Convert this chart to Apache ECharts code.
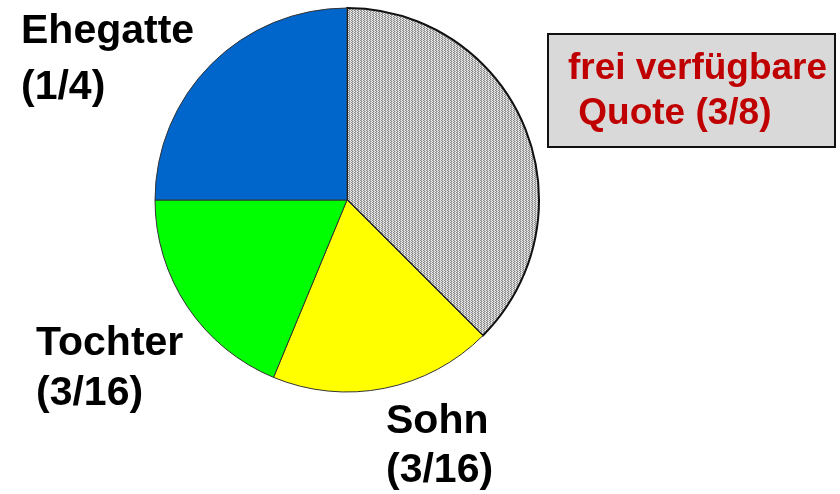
<!DOCTYPE html>
<html><head><meta charset="utf-8">
<script src="https://cdn.jsdelivr.net/npm/echarts@6/dist/echarts.min.js"></script>
<style>html,body{margin:0;padding:0;background:#fff}#c{width:840px;height:494px}</style>
</head><body><div id="c"></div>
<script>
// Data
const names = ['frei verfügbare\n Quote', 'Sohn', 'Tochter', 'Ehegatte'];
const fractions = ['3/8', '3/16', '3/16', '1/4'];
const values = [0.375, 0.1875, 0.1875, 0.25];

// hatch pattern (fine downward diagonal, pixel crisp)
const tile = document.createElement('canvas');
tile.width = 6; tile.height = 4;
const tc = tile.getContext('2d');
tc.fillStyle = '#eeeeee'; tc.fillRect(0, 0, 6, 4);
for (let r = 0; r < 4; r++) {
  const s = Math.floor(r * 1.5);
  for (let x = 0; x < 6; x++) {
    const m = ((x - s) % 3 + 3) % 3;
    if (m === 0) { tc.fillStyle = '#868686'; tc.fillRect(x, r, 1, 1); }
    else if (m === 1) { tc.fillStyle = '#bcbcbc'; tc.fillRect(x, r, 1, 1); }
  }
}

const colors = [{ image: tile, repeat: 'repeat' }, '#ffff00', '#00ff00', '#0066cc'];
const borders = ['#111', '#333', '#333', '#333'];
const borderW = [2, 1, 1, 1];

// label positions (top-left of text block)
const labelPos = [[568, 46], [386, 397], [36, 319], [21, 4]];
const lineH = [45, 49, 50, 56];
const fontSize = [37, 41, 41, 41];
const FONT = 'Liberation Sans, Arial, sans-serif';

const graphics = [{
  type: 'rect', shape: { x: 548, y: 34, width: 287, height: 113 },
  style: { fill: '#d9d9d9', stroke: '#111', lineWidth: 2 }, z: 10
}];
names.forEach((n, i) => {
  const isBox = i === 0;
  graphics.push({
    type: 'text', x: labelPos[i][0], y: labelPos[i][1], z: 11,
    style: {
      text: isBox ? n + ' (' + fractions[i] + ')' : n + '\n(' + fractions[i] + ')',
      fill: isBox ? '#c00000' : '#000',
      font: 'bold ' + fontSize[i] + 'px ' + FONT,
      lineHeight: lineH[i],
      align: 'left', verticalAlign: 'top'
    }
  });
});

const chart = echarts.init(document.getElementById('c'), null, { renderer: 'canvas' });
chart.setOption({
  animation: false,
  graphic: graphics,
  series: [{
    type: 'pie',
    center: [347, 200],
    radius: 192,
    startAngle: 90,
    clockwise: true,
    silent: true,
    label: { show: false },
    labelLine: { show: false },
    data: values.map((v, i) => ({
      value: v,
      name: names[i],
      itemStyle: { color: colors[i], borderColor: borders[i], borderWidth: borderW[i] }
    }))
  }]
});
</script></body></html>
